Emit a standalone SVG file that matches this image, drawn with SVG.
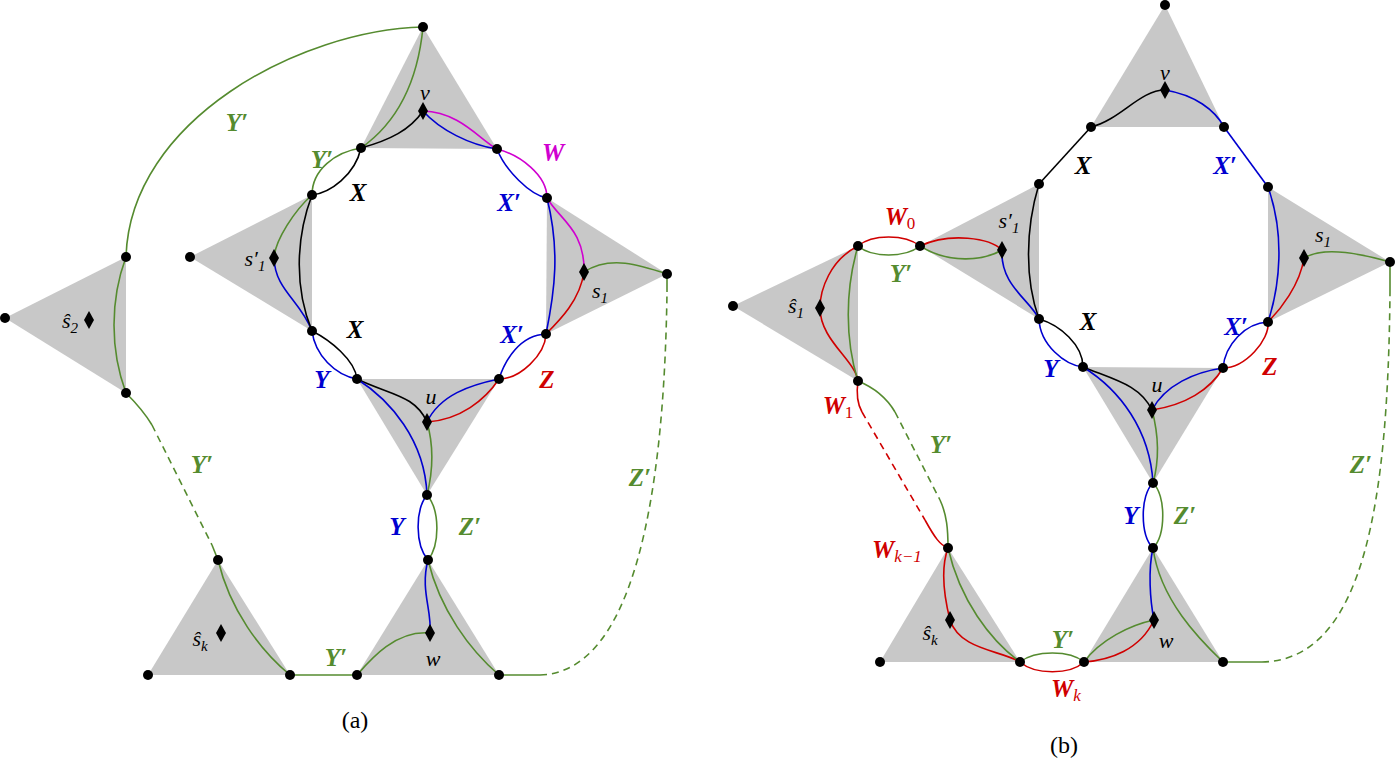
<svg xmlns="http://www.w3.org/2000/svg" width="1400" height="761" viewBox="0 0 1400 761">
<style>
.tri{fill:#c8c8c8;stroke:none}
.e{fill:none;stroke-width:1.6}
.g{stroke:#558b2f}.b{stroke:#0000d0}.r{stroke:#d00000}.k{stroke:#000}.m{stroke:#d000d0}
.d{stroke-dasharray:7,5}
text{font-family:"Liberation Serif",serif;text-anchor:middle}
.lb{font-weight:bold;font-style:italic;font-size:25px}
.sm{font-style:italic;font-size:22px}
.G{fill:#558b2f}.B{fill:#0000d0}.R{fill:#d00000}.K{fill:#000}.M{fill:#d000d0}
</style>
<defs>
<circle id="dot" r="5" fill="#000"/>
<path id="dia" d="M0,-9 L5,0 L0,9 L-5,0Z" fill="#000"/>
</defs>
<g id="triangles">
<polygon class="tri" points="423,27 361,148 497,149"/>
<polygon class="tri" points="190,257 312,195 312,331"/>
<polygon class="tri" points="547,198 546,334 667,274"/>
<polygon class="tri" points="357,379 499,379 427,495"/>
<polygon class="tri" points="428,560 357,675 499,675"/>
<polygon class="tri" points="218,560 148,675 290,675"/>
<polygon class="tri" points="5,318 126,257 126,393"/>
<polygon class="tri" points="1165,5 1091,127 1224,127"/>
<polygon class="tri" points="920,246 1039,184 1039,319"/>
<polygon class="tri" points="1268,187 1268,322 1390,262"/>
<polygon class="tri" points="733,306 858,246 858,381"/>
<polygon class="tri" points="1083,367 1223,368 1153,483"/>
<polygon class="tri" points="1153,548 1084,662 1223,662"/>
<polygon class="tri" points="948,548 880,662 1020,662"/>
</g>
<g id="connectors">
<!-- (a) -->
<path class="e g" d="M126,257 C130,120 300,30 423,27"/>
<path class="e g" d="M423,27 Q415,110 361,148"/>
<path class="e g" d="M361,148 C335,152 312,170 312,195"/>
<path class="e k" d="M361,148 C355,175 330,193 312,195"/>
<path class="e k" d="M361,148 C390,140 410,130 423,111"/>
<path class="e b" d="M423,111 C440,130 470,145 497,149"/>
<path class="e m" d="M423,111 C460,112 480,140 497,149 C520,155 547,175 547,198 C560,220 585,230 584,272"/>
<path class="e b" d="M497,149 C505,170 530,195 547,198"/>
<path class="e g" d="M312,195 C295,210 275,240 274,258"/>
<path class="e b" d="M274,258 C275,290 300,300 312,331"/>
<path class="e k" d="M312,195 C295,240 295,290 312,331"/>
<path class="e k" d="M312,331 C330,340 355,360 357,379"/>
<path class="e b" d="M312,331 C315,355 335,375 357,379"/>
<path class="e b" d="M547,198 C560,250 555,290 546,334"/>
<path class="e r" d="M584,272 C580,300 560,320 546,334"/>
<path class="e g" d="M584,272 C610,255 640,265 667,274"/>
<path class="e b" d="M546,334 C520,335 505,360 499,379"/>
<path class="e r" d="M546,334 C545,355 520,379 499,379"/>
<path class="e k" d="M357,379 C390,395 415,395 427,422"/>
<path class="e b" d="M357,379 C390,400 425,440 427,495"/>
<path class="e b" d="M499,379 C470,385 440,395 427,422"/>
<path class="e r" d="M499,379 C485,400 460,420 427,422"/>
<path class="e g" d="M427,422 C435,450 432,475 427,495"/>
<path class="e b" d="M427,495 C415,510 415,545 428,560"/>
<path class="e g" d="M427,495 C440,510 440,545 428,560"/>
<path class="e b" d="M428,560 C420,590 432,610 430,633"/>
<path class="e g" d="M430,633 C395,630 370,660 357,675"/>
<path class="e g" d="M428,560 C440,610 470,650 499,675"/>
<path class="e g" d="M499,675 L540,675"/>
<path class="e g d" d="M540,675 C650,672 665,430 667,292"/>
<path class="e g" d="M667,292 L667,274"/>
<path class="e g" d="M290,675 L357,675"/>
<path class="e g" d="M218,560 C230,610 260,650 290,675"/>
<path class="e g" d="M126,257 C110,300 110,350 126,393"/>
<path class="e g" d="M126,393 C138,405 146,415 152,425"/>
<path class="e g d" d="M152,425 L212,545"/>
<path class="e g" d="M212,545 L218,560"/>
<!-- (b) -->
<path class="e k" d="M1091,127 C1120,120 1140,90 1165,90"/>
<path class="e b" d="M1165,90 C1195,95 1215,110 1224,127"/>
<path class="e k" d="M1091,127 L1039,184"/>
<path class="e b" d="M1224,127 L1268,187"/>
<path class="e r" d="M858,246 C830,260 820,290 820,308 C820,340 855,360 858,381"/>
<path class="e g" d="M858,246 C845,290 845,340 858,381"/>
<path class="e r" d="M858,246 C872,234 905,234 920,246"/>
<path class="e g" d="M858,246 C872,258 905,258 920,246"/>
<path class="e r" d="M920,246 C950,232 990,238 1002,250"/>
<path class="e g" d="M920,246 C950,265 985,260 1002,250"/>
<path class="e b" d="M1002,250 C1000,285 1030,300 1039,319"/>
<path class="e k" d="M1039,184 C1025,230 1025,280 1039,319"/>
<path class="e k" d="M1039,319 C1060,325 1083,345 1083,367"/>
<path class="e b" d="M1039,319 C1040,345 1065,365 1083,367"/>
<path class="e b" d="M1268,187 C1285,235 1280,285 1268,322"/>
<path class="e r" d="M1304,258 C1300,285 1280,310 1268,322"/>
<path class="e g" d="M1304,258 C1325,245 1365,255 1390,262"/>
<path class="e b" d="M1268,322 C1245,323 1225,345 1223,368"/>
<path class="e r" d="M1268,322 C1270,340 1245,368 1223,368"/>
<path class="e k" d="M1083,367 C1115,380 1140,385 1152,410"/>
<path class="e b" d="M1083,367 C1120,390 1150,430 1153,483"/>
<path class="e b" d="M1223,368 C1195,372 1165,385 1152,410"/>
<path class="e r" d="M1223,368 C1210,390 1185,405 1152,410"/>
<path class="e g" d="M1152,410 C1160,440 1158,465 1153,483"/>
<path class="e b" d="M1153,483 C1140,495 1140,535 1153,548"/>
<path class="e g" d="M1153,483 C1166,495 1166,535 1153,548"/>
<path class="e b" d="M1153,548 C1148,570 1150,600 1154,620"/>
<path class="e g" d="M1153,548 C1160,600 1200,640 1223,662"/>
<path class="e g" d="M1084,662 C1100,640 1130,625 1154,620"/>
<path class="e r" d="M1084,662 C1110,660 1140,650 1154,620"/>
<path class="e g" d="M1020,662 C1035,650 1070,650 1084,662"/>
<path class="e r" d="M1020,662 C1035,675 1070,675 1084,662"/>
<path class="e r" d="M948,548 C940,570 945,600 950,620 C960,650 1000,650 1020,662"/>
<path class="e g" d="M948,548 C960,600 990,640 1020,662"/>
<path class="e g" d="M1223,662 L1262,662"/>
<path class="e g d" d="M1262,662 C1365,660 1388,500 1390,292"/>
<path class="e g" d="M1390,292 L1390,262"/>
<path class="e r" d="M858,381 C856,395 858,405 862,412"/>
<path class="e r d" d="M862,412 L925,520"/>
<path class="e r" d="M925,520 C935,538 940,545 948,548"/>
<path class="e g" d="M858,381 C875,388 888,400 895,412"/>
<path class="e g d" d="M895,412 L940,500"/>
<path class="e g" d="M940,500 C947,515 948,530 948,548"/>
</g>
<g id="nodes">
<use href="#dot" x="423" y="27"/><use href="#dot" x="361" y="148"/><use href="#dot" x="497" y="149"/>
<use href="#dot" x="190" y="257"/><use href="#dot" x="312" y="195"/><use href="#dot" x="312" y="331"/>
<use href="#dot" x="547" y="198"/><use href="#dot" x="546" y="334"/><use href="#dot" x="667" y="274"/>
<use href="#dot" x="357" y="379"/><use href="#dot" x="499" y="379"/><use href="#dot" x="427" y="495"/>
<use href="#dot" x="428" y="560"/><use href="#dot" x="357" y="675"/><use href="#dot" x="499" y="675"/>
<use href="#dot" x="218" y="560"/><use href="#dot" x="148" y="675"/><use href="#dot" x="290" y="675"/>
<use href="#dot" x="5" y="318"/><use href="#dot" x="126" y="257"/><use href="#dot" x="126" y="393"/>
<use href="#dia" x="423" y="111"/><use href="#dia" x="274" y="258"/><use href="#dia" x="584" y="272"/>
<use href="#dia" x="427" y="422"/><use href="#dia" x="430" y="633"/><use href="#dia" x="221" y="633"/><use href="#dia" x="89" y="320"/>
<use href="#dot" x="1165" y="5"/><use href="#dot" x="1091" y="127"/><use href="#dot" x="1224" y="127"/>
<use href="#dot" x="920" y="246"/><use href="#dot" x="1039" y="184"/><use href="#dot" x="1039" y="319"/>
<use href="#dot" x="1268" y="187"/><use href="#dot" x="1268" y="322"/><use href="#dot" x="1390" y="262"/>
<use href="#dot" x="733" y="306"/><use href="#dot" x="858" y="246"/><use href="#dot" x="858" y="381"/>
<use href="#dot" x="1083" y="367"/><use href="#dot" x="1223" y="368"/><use href="#dot" x="1153" y="483"/>
<use href="#dot" x="1153" y="548"/><use href="#dot" x="1084" y="662"/><use href="#dot" x="1223" y="662"/>
<use href="#dot" x="948" y="548"/><use href="#dot" x="880" y="662"/><use href="#dot" x="1020" y="662"/>
<use href="#dia" x="1165" y="90"/><use href="#dia" x="1002" y="250"/><use href="#dia" x="1304" y="258"/>
<use href="#dia" x="820" y="308"/><use href="#dia" x="1152" y="410"/><use href="#dia" x="1154" y="620"/><use href="#dia" x="950" y="620"/>
</g>
<g id="labels">
<text class="lb G" x="237" y="131">Y′</text>
<text class="lb G" x="322" y="168">Y′</text>
<text class="lb K" x="358" y="201">X</text>
<text class="lb M" x="553" y="161">W</text>
<text class="lb B" x="509" y="211">X′</text>
<text class="lb K" x="355" y="338">X</text>
<text class="lb B" x="512" y="343">X′</text>
<text class="lb B" x="322" y="388">Y</text>
<text class="lb R" x="547" y="388">Z</text>
<text class="sm" x="425" y="100">v</text>
<text class="sm" x="431" y="404">u</text>
<text class="sm" x="255" y="266">s′<tspan font-size="15" dy="5">1</tspan></text>
<text class="sm" x="600" y="298">s<tspan font-size="15" dy="5">1</tspan></text>
<text class="sm" x="70" y="328">ŝ<tspan font-size="15" dy="5">2</tspan></text>
<text class="sm" x="200" y="646">ŝ<tspan font-size="15" dy="5">k</tspan></text>
<text class="lb G" x="202" y="473">Y′</text>
<text class="lb G" x="640" y="486">Z′</text>
<text class="lb B" x="397" y="535">Y</text>
<text class="lb G" x="470" y="535">Z′</text>
<text class="lb G" x="336" y="666">Y′</text>
<text class="sm" x="433" y="666">w</text>
<text style="font-size:24px" x="355" y="728">(a)</text>
<text class="sm" x="1165" y="80">v</text>
<text class="lb K" x="1083" y="174">X</text>
<text class="lb B" x="1225" y="174">X′</text>
<text class="sm" x="1009" y="228">s′<tspan font-size="15" dy="5">1</tspan></text>
<text class="sm" x="1323" y="242">s<tspan font-size="15" dy="5">1</tspan></text>
<text class="sm" x="796" y="313">ŝ<tspan font-size="15" dy="5">1</tspan></text>
<text class="lb R" x="900" y="225">W<tspan font-size="17" font-weight="normal" font-style="normal" dy="4">0</tspan></text>
<text class="lb G" x="901" y="282">Y′</text>
<text class="lb K" x="1088" y="330">X</text>
<text class="lb B" x="1236" y="335">X′</text>
<text class="lb B" x="1051" y="377">Y</text>
<text class="lb R" x="1270" y="375">Z</text>
<text class="sm" x="1157" y="392">u</text>
<text class="lb R" x="838" y="414">W<tspan font-size="17" font-weight="normal" font-style="normal" dy="4">1</tspan></text>
<text class="lb G" x="941" y="453">Y′</text>
<text class="lb G" x="1361" y="473">Z′</text>
<text class="lb B" x="1131" y="524">Y</text>
<text class="lb G" x="1185" y="524">Z′</text>
<text class="lb R" x="897" y="558">W<tspan font-size="17" font-weight="normal" dy="4">k−1</tspan></text>
<text class="sm" x="930" y="640">ŝ<tspan font-size="15" dy="5">k</tspan></text>
<text class="lb G" x="1063" y="648">Y′</text>
<text class="lb R" x="1066" y="697">W<tspan font-size="17" font-weight="normal" dy="4">k</tspan></text>
<text class="sm" x="1166" y="648">w</text>
<text style="font-size:24px" x="1064" y="753">(b)</text>
</g>
</svg>
